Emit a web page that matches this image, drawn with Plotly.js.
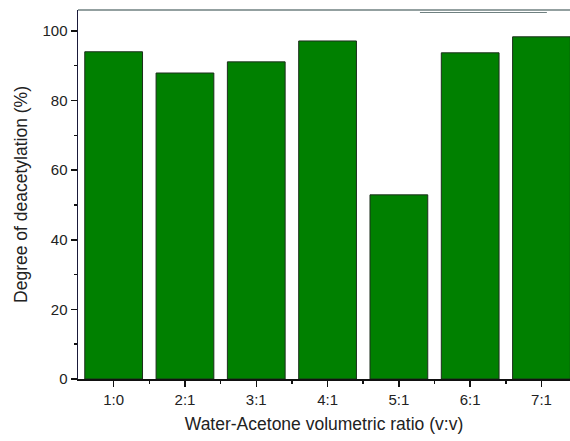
<!DOCTYPE html>
<html><head><meta charset="utf-8">
<script src="https://cdn.plot.ly/plotly-3.0.1.min.js"></script>
<style>html,body{margin:0;padding:0;background:#fff;}#chart{width:570px;height:441px;}</style>
</head><body><div id="chart"></div>
<script>
const categories = ["1:0","2:1","3:1","4:1","5:1","6:1","7:1"];
const deacetylation = [94.0, 87.9, 91.1, 97.1, 52.9, 93.7, 98.3];
const yTickVals = [0,20,40,60,80,100];

const idx = categories.map((c,i)=>i);
const bounds = categories.slice(0,-1).map((c,i)=>i+0.5);

const trace = {
  type:'bar', x: idx, y: deacetylation, width: 0.81,
  marker:{color:'#008000', line:{color:'#1c2e1c', width:1}},
  hoverinfo:'x+y'
};
const layout = {
  width:570, height:441,
  margin:{l:78, r:0, t:10, b:62},
  paper_bgcolor:'#fff', plot_bgcolor:'#fff',
  showlegend:false,
  font:{family:'Liberation Sans, Arial, sans-serif', color:'#222'},
  xaxis:{
    type:'linear', range:[-0.5, 6.4],
    tickmode:'array', tickvals: idx, ticktext: categories,
    ticks:'outside', ticklen:6, tickwidth:1.5, tickcolor:'#111',
    minor:{tickmode:'array', tickvals: bounds, ticks:'outside', ticklen:3, tickwidth:1.5, tickcolor:'#111'},
    showline:true, linecolor:'#111', linewidth:1.5,
    showgrid:false, zeroline:false,
    tickfont:{size:15, color:'#222'},
    title:{text:'Water-Acetone volumetric ratio (v:v)', font:{size:17.5, color:'#222'}, standoff:11}
  },
  yaxis:{
    range:[0,106],
    tickmode:'array', tickvals: yTickVals,
    ticks:'outside', ticklen:6, tickwidth:1.5, tickcolor:'#111',
    minor:{dtick:10, tick0:0, ticks:'outside', ticklen:3, tickwidth:1.5, tickcolor:'#111'},
    showline:true, linecolor:'#1a1a3a', linewidth:1.5,
    showgrid:false, zeroline:false,
    tickfont:{size:15, color:'#222'},
    title:{text:'Degree of deacetylation (%)', font:{size:17.5, color:'#222'}, standoff:10}
  },
  shapes:[
    {type:'line', xref:'paper', yref:'paper', x0:0, x1:1, y0:1, y1:1, line:{color:'#6f8080', width:1.5}},
    {type:'line', xref:'paper', yref:'paper', x0:0.695, x1:0.953, y0:1-2.5/369, y1:1-2.5/369, line:{color:'#6f8080', width:1}}
  ]
};
Plotly.newPlot('chart',[trace],layout,{displayModeBar:false, staticPlot:true});
</script></body></html>
